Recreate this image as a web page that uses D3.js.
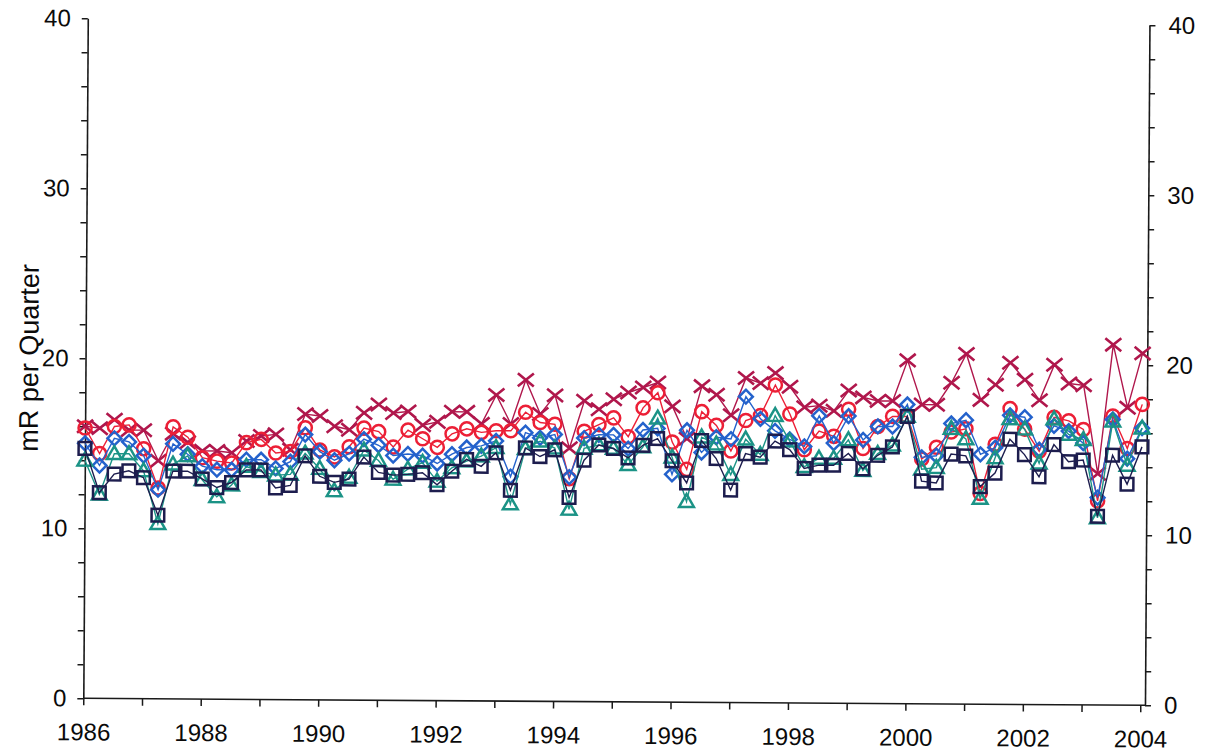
<!DOCTYPE html>
<html>
<head>
<meta charset="utf-8">
<script src="https://cdn.jsdelivr.net/npm/d3@7"></script>
<style>
  html, body { margin: 0; padding: 0; background: #fff; }
  svg { display: block; font-family: "Liberation Sans", Arial, sans-serif; }
</style>
</head>
<body>
<svg id="chart" width="1206" height="755"></svg>
<script>
// Quarterly readings, 1986 Q1 through 2004 Q1 (73 quarters)
const quarters = d3.range(73).map(i => 1986 + i * 0.25);

const seriesX = [16.0,15.9,16.4,15.8,15.8,14.0,15.6,15.1,14.6,14.6,14.5,15.2,15.5,15.6,14.7,16.8,16.7,16.1,15.9,16.9,17.4,16.9,17.0,16.2,16.4,17.0,17.0,16.3,18.0,16.3,18.9,16.9,18.0,14.9,17.7,17.2,17.8,18.2,18.5,18.8,17.4,15.5,18.6,18.1,16.9,19.1,18.8,19.4,18.6,17.4,17.5,17.2,18.4,18.0,17.8,17.8,20.2,17.6,17.6,18.9,20.6,17.9,18.8,20.1,19.1,17.9,20.0,18.9,18.8,13.6,21.2,17.5,20.7];
const seriesCircle = [15.9,14.4,16.0,16.1,14.7,12.4,16.0,15.4,14.2,14.0,13.9,15.1,15.3,14.5,14.6,16.0,14.7,14.3,14.9,16.0,15.8,14.9,15.9,15.4,14.9,15.7,16.0,15.8,15.9,15.9,17.0,16.4,16.3,13.1,15.9,16.3,16.7,15.6,17.3,18.2,15.3,13.7,17.1,16.3,14.8,16.6,16.9,18.7,17.0,14.9,16.0,15.7,17.3,15.0,16.3,16.9,16.9,14.4,15.1,16.0,16.2,12.4,15.3,17.4,16.2,14.9,16.9,16.7,16.2,12.0,17.0,15.1,17.7];
const seriesDiamond = [15.0,13.7,15.3,15.1,14.3,12.3,15.0,14.4,13.7,13.5,13.5,14.1,14.1,13.6,14.0,15.6,14.6,14.1,14.5,15.35,15.0,14.4,14.5,14.4,13.95,14.5,14.9,15.0,15.3,13.2,15.8,15.5,15.7,13.2,15.5,15.7,15.7,14.9,16.0,16.1,13.4,16.0,14.7,15.6,15.5,18.0,16.7,16.0,15.5,15.1,16.9,15.3,16.9,15.5,16.3,16.3,17.6,14.5,14.6,16.5,16.7,14.7,15.1,17.0,16.9,15.0,16.4,16.1,15.4,12.2,16.8,14.5,16.3];
const seriesTriangle = [14.0,12.0,14.4,14.4,13.4,10.3,13.8,14.3,12.9,11.9,12.6,13.7,13.4,13.2,13.25,14.5,13.6,12.3,13.1,14.7,14.1,13.0,13.6,14.0,12.9,13.7,14.1,14.4,14.9,11.6,14.85,15.3,14.9,11.3,14.9,15.1,14.9,13.95,15.0,16.7,14.4,11.8,15.6,15.2,13.4,15.5,14.6,16.9,15.4,13.9,14.4,14.4,15.5,13.7,14.7,15.2,16.9,13.8,13.9,16.2,15.6,12.1,14.5,16.8,16.2,14.2,16.8,15.9,15.6,11.0,16.7,14.1,16.3];
const seriesSquare = [14.7,12.1,13.2,13.4,13.0,10.8,13.4,13.4,12.95,12.45,12.75,13.5,13.5,12.45,12.6,14.35,13.15,12.8,13.0,14.3,13.4,13.25,13.3,13.4,12.7,13.5,14.2,13.8,14.6,12.4,14.9,14.4,14.8,12.0,14.2,15.1,14.9,14.35,15.1,15.5,14.2,12.9,15.4,14.35,12.5,14.65,14.45,15.4,14.9,13.8,14.0,14.0,14.7,13.8,14.6,15.1,16.9,13.1,13.0,14.7,14.6,12.8,13.6,15.6,14.7,13.4,15.3,14.3,14.4,11.1,14.7,13.0,15.2];

const xTickYears = [1986,1987,1988,1989,1990,1991,1992,1993,1994,1995,1996,1997,1998,1999,2000,2001,2002,2003,2004];
const xTickLabels = ["1986","1988","1990","1992","1994","1996","1998","2000","2002","2004"];
const yTickValues = [0,2,4,6,8,10,12,14,16,18,20,22,24,26,28,30,32,34,36,38,40];
const yTickLabels = ["0","10","20","30","40"];
const yAxisTitle = "mR per Quarter";

const series = [
  { values: seriesX,        color: "#b0174c", shape: "x" },
  { values: seriesCircle,   color: "#ec1f36", shape: "circle" },
  { values: seriesDiamond,  color: "#2462cc", shape: "diamond" },
  { values: seriesTriangle, color: "#1b9386", shape: "triangle" },
  { values: seriesSquare,   color: "#1d1d4e", shape: "square" }
];

const svg = d3.select("#chart");
const plotLeft = 83.3, plotRight = 1145, plotTop = 18.3, plotBottom = 698.3;

// the whole chart sits slightly tilted
const g = svg.append("g")
  .attr("transform", `rotate(0.378, ${plotLeft}, ${plotBottom})`);

const x = d3.scaleLinear().domain([1986, 2004.08]).range([plotLeft, plotRight]);
const y = d3.scaleLinear().domain([0, 40]).range([plotBottom, plotTop]);

const fontSize = 24;

// left axis
const yLeft = g.append("g")
  .attr("transform", `translate(${plotLeft},0)`)
  .call(d3.axisLeft(y).tickValues(yTickValues).tickSize(6).tickSizeOuter(0).tickPadding(11)
    .tickFormat(d => yTickLabels.includes(String(d)) ? String(d) : ""));
// right axis
const yRight = g.append("g")
  .attr("transform", `translate(${plotRight},0)`)
  .call(d3.axisRight(y).tickValues(yTickValues).tickSize(6).tickSizeOuter(0).tickPadding(13)
    .tickFormat(d => yTickLabels.includes(String(d)) ? String(d) : ""));
// bottom axis
const xBottom = g.append("g")
  .attr("transform", `translate(0,${plotBottom})`)
  .call(d3.axisBottom(x).tickValues(xTickYears).tickSize(7).tickSizeOuter(0).tickPadding(18)
    .tickFormat(d => xTickLabels.includes(String(d)) ? String(d) : ""));

[yLeft, yRight, xBottom].forEach(ax => {
  ax.select(".domain").attr("stroke", "#1a1a1a").attr("stroke-width", 1.6);
  ax.selectAll(".tick line").attr("stroke", "#1a1a1a").attr("stroke-width", 1.5);
  ax.selectAll("text").attr("font-size", fontSize).attr("fill", "#0a0a0a")
    .attr("font-family", "'Liberation Sans', Arial, sans-serif");
});
// x axis line spans the whole plot width
xBottom.select(".domain").attr("d", `M${plotLeft},0H${plotRight}`);

// axis title
g.append("text")
  .attr("transform", `translate(36,${(plotTop + plotBottom) / 2}) rotate(-90)`)
  .attr("text-anchor", "middle")
  .attr("font-size", 27)
  .attr("fill", "#0a0a0a")
  .text(yAxisTitle);

// series lines and markers
const line = d3.line().x((d, i) => x(quarters[i])).y(d => y(d));
const markerSymbols = {
  circle: d3.symbol().type(d3.symbolCircle).size(135)(),
  square: d3.symbol().type(d3.symbolSquare).size(160)(),
  diamond: d3.symbol().type(d3.symbolSquare).size(95)(),
  triangle: d3.symbol().type(d3.symbolTriangle).size(95)()
};

series.forEach(s => {
  const sg = g.append("g");
  sg.append("path")
    .datum(s.values)
    .attr("fill", "none")
    .attr("stroke", s.color)
    .attr("stroke-width", 1.4)
    .attr("d", line);

  const marks = sg.selectAll("g.mk")
    .data(s.values)
    .join("g")
    .attr("class", "mk")
    .attr("transform", (d, i) => `translate(${x(quarters[i])},${y(d)})`);

  if (s.shape === "x") {
    marks.append("path")
      .attr("d", "M-8,-6.5L8,6.5M-8,6.5L8,-6.5")
      .attr("stroke", s.color)
      .attr("stroke-width", 2.6)
      .attr("fill", "none");
  } else {
    marks.append("path")
      .attr("d", markerSymbols[s.shape])
      .attr("transform", s.shape === "diamond" ? "rotate(45)" : (s.shape === "triangle" ? "translate(0,1)" : null))
      .attr("stroke", s.color)
      .attr("stroke-width", 2.5)
      .attr("fill", "none");
  }
});
</script>
</body>
</html>
